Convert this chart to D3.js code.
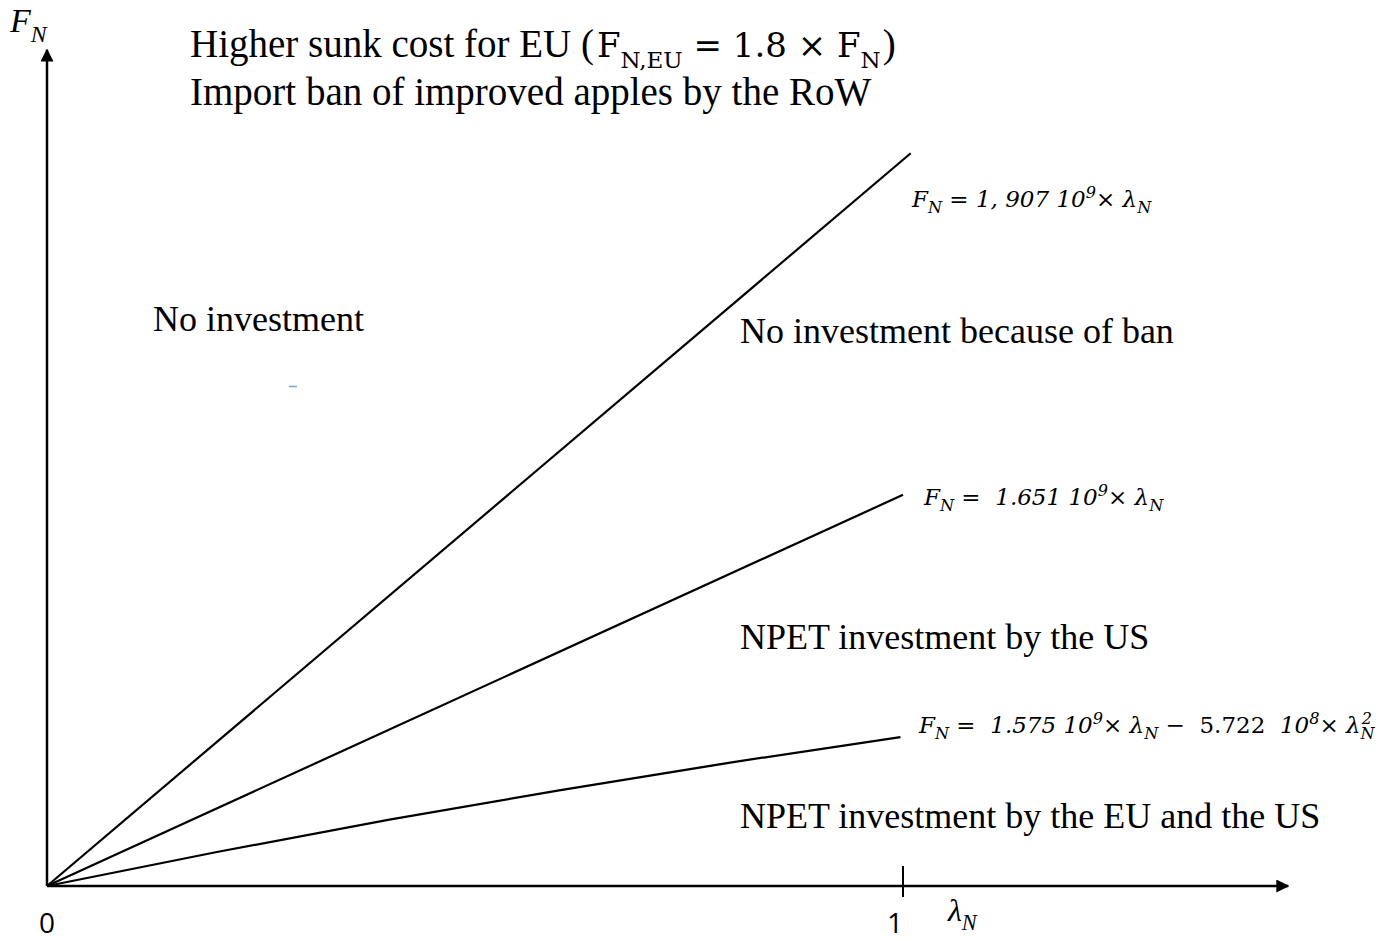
<!DOCTYPE html>
<html>
<head>
<meta charset="utf-8">
<script src="https://cdn.jsdelivr.net/npm/d3@7"></script>
<style>
  body { margin: 0; background: #fff; }
  svg { display: block; }
</style>
</head>
<body>
<script>
// Schematic diagram: lambda_N on x, F_N on y (drawing units, 1 = distance 0->1 on x)
var xMax = 1.45, yMax = 0.977;
var xTickValues = [0, 1];
var xTickLabels = ["0", "1"];

// boundary lines, points
var banLambda = [0, 1.009];
var banF = [0, 0.856];
var usLambda = [0, 1.0];
var usF = [0, 0.457];
var euLambda = [0, 0.2, 0.4, 0.6, 0.8, 0.997];
var euF = [0, 0.040, 0.0775, 0.112, 0.1445, 0.174];

var regionLabels = [
  "No investment",
  "No investment because of ban",
  "NPET investment by the US",
  "NPET investment by the EU and the US"
];
var titleLine2 = "Import ban of improved apples by the RoW";

var W = 1398, H = 941;
var origin = {x: 47, y: 886};

var svg = d3.select("body").append("svg")
    .attr("width", W)
    .attr("height", H);

var x = d3.scaleLinear().domain([0, 1]).range([origin.x, 903]);
var y = d3.scaleLinear().domain([0, 1]).range([origin.y, origin.y - 856]);

// arrow heads
var defs = svg.append("defs");
defs.append("marker")
    .attr("id", "arrow")
    .attr("viewBox", "0 0 12 12")
    .attr("refX", 11).attr("refY", 6)
    .attr("markerWidth", 13).attr("markerHeight", 13)
    .attr("markerUnits", "userSpaceOnUse")
    .attr("orient", "auto")
    .append("path")
    .attr("d", "M0,0 L12,6 L0,12 Z")
    .attr("fill", "#000");

// axes
svg.append("line")
    .attr("x1", x(0)).attr("y1", y(0))
    .attr("x2", x(xMax)).attr("y2", y(0))
    .attr("stroke", "#000").attr("stroke-width", 2.5)
    .attr("marker-end", "url(#arrow)");
svg.append("line")
    .attr("x1", x(0)).attr("y1", y(0))
    .attr("x2", x(0)).attr("y2", y(yMax))
    .attr("stroke", "#000").attr("stroke-width", 2.5)
    .attr("marker-end", "url(#arrow)");

// tick at lambda = 1
svg.selectAll(".tick")
    .data(xTickValues.filter(d => d > 0))
    .enter().append("line")
    .attr("class", "tick")
    .attr("x1", d => x(d)).attr("x2", d => x(d))
    .attr("y1", y(0) - 20).attr("y2", y(0) + 11)
    .attr("stroke", "#000").attr("stroke-width", 2);

svg.selectAll(".ticklabel")
    .data(xTickValues)
    .enter().append("text")
    .attr("class", "ticklabel")
    .attr("x", (d, i) => x(d) - (i ? 8 : 0))
    .attr("y", 933)
    .attr("text-anchor", "middle")
    .style("font-family", "'Open Sans', sans-serif")
    .style("font-size", "28px")
    .text((d, i) => xTickLabels[i]);

// boundary curves
var line = d3.line()
    .x(d => x(d[0]))
    .y(d => y(d[1]))
    .curve(d3.curveMonotoneX);

[[banLambda, banF], [usLambda, usF], [euLambda, euF]].forEach(function(s) {
    svg.append("path")
        .datum(d3.zip(s[0], s[1]))
        .attr("d", line)
        .attr("fill", "none")
        .attr("stroke", "#000")
        .attr("stroke-width", 2.2);
});

// text with sub/superscripts
function rich(x0, y0, size, family, italic, segs) {
    var t = svg.append("text")
        .attr("x", x0).attr("y", y0)
        .style("white-space", "pre")
        .style("font-family", family)
        .style("font-size", size + "px")
        .style("font-style", italic ? "italic" : "normal");
    var shift = 0;
    segs.forEach(function(s) {
        var ts = t.append("tspan").text(s.t);
        var target = s.sub ? size * 0.28 : s.sup ? -size * 0.4 : 0;
        if (target !== shift) { ts.attr("dy", target - shift); shift = target; }
        if (s.dx) ts.attr("dx", s.dx);
        if (s.size) ts.style("font-size", s.size + "px");
        else if (s.sub || s.sup) ts.style("font-size", (size * 0.7) + "px");
        if (s.it !== undefined) ts.style("font-style", s.it ? "italic" : "normal");
        if (s.font) ts.style("font-family", s.font);
    });
    return t;
}

var serif = "'Liberation Serif', 'Times New Roman', serif";
var math = "'DejaVu Serif', serif";

// axis labels
rich(10, 32, 34, serif, true, [{t: "F"}, {t: "N", sub: true}]);
rich(948, 921, 32, serif, true, [{t: "λ"}, {t: "N", sub: true}]);

// title
rich(190, 57, 39, serif, false, [
    {t: "Higher sunk cost for EU ("},
    {t: "F", font: math, size: 34, dx: 3}, {t: "N,EU", sub: true, font: math, size: 23},
    {t: " = 1.8 × F", font: math, size: 34}, {t: "N", sub: true, font: math, size: 23},
    {t: ")", dx: 2}
]);
svg.append("text")
    .attr("x", 190).attr("y", 105)
    .style("font-family", serif)
    .style("font-size", "39px")
    .text(titleLine2);

// region labels
var regionPos = [[153, 331], [740, 343], [740, 649], [740, 828]];
svg.selectAll(".region")
    .data(regionLabels)
    .enter().append("text")
    .attr("class", "region")
    .attr("x", (d, i) => regionPos[i][0])
    .attr("y", (d, i) => regionPos[i][1])
    .style("font-family", serif)
    .style("font-size", "36px")
    .text(d => d);

// equations
rich(912, 207, 23, math, true, [
    {t: "F"}, {t: "N", sub: true}, {t: " = 1, 907 10"}, {t: "9", sup: true},
    {t: "× λ"}, {t: "N", sub: true}
]);
rich(924, 505, 23, math, true, [
    {t: "F"}, {t: "N", sub: true}, {t: " =  1.651 10"}, {t: "9", sup: true},
    {t: "× λ"}, {t: "N", sub: true}
]);
rich(919, 733, 23, math, true, [
    {t: "F"}, {t: "N", sub: true}, {t: " =  1.575 10"}, {t: "9", sup: true},
    {t: "× λ"}, {t: "N", sub: true}, {t: " −  "},
    {t: "5.722", it: false}, {t: "  10"}, {t: "8", sup: true},
    {t: "× λ"}, {t: "N", sub: true}, {t: "2", sup: true, dx: -13}
]);

// stray blue dash from the original figure
svg.append("line")
    .attr("x1", 289).attr("x2", 297)
    .attr("y1", 386.5).attr("y2", 386.5)
    .attr("stroke", "#6fa8dc").attr("stroke-width", 1.5);
</script>
</body>
</html>
